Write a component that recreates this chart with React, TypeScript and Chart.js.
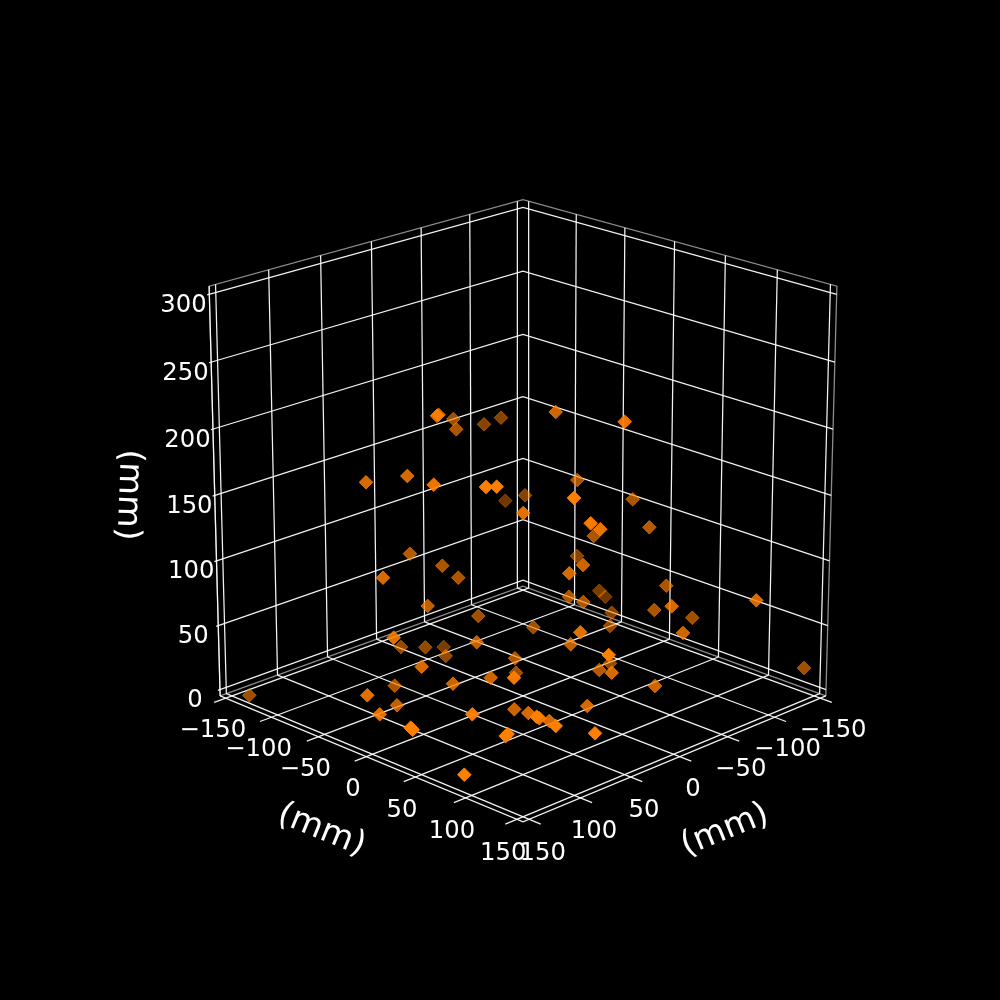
import React, { useEffect, useRef } from "react";
import { Chart, registerables } from "chart.js";

Chart.register(...registerables);

// Axis ticks (mm)
const axisATicks = [-150, -100, -50, 0, 50, 100, 150];
const axisBTicks = [-150, -100, -50, 0, 50, 100, 150];
const axisZTicks = [0, 50, 100, 150, 200, 250, 300];
const axisTitle = "(mm)";

// Limits of the box (mm)
const horizontalLimits = [-156, 156];
const verticalLimits = [-5, 306];

// Scatter values read in the plane of the picture, with the depth shade of each marker
const seriesX = [437, 438.5, 453.3, 456.3, 484, 501, 555.7, 366, 407.3, 433.7, 486, 496.7, 505.3, 525, 523.3, 410, 442.3, 383, 458.3, 427.7, 624.7, 577.3, 574, 632.7, 590.7, 600.3, 593.7, 649.3, 577, 583, 569.3, 666.3, 599.3, 605.3, 569, 583.3, 671.7, 756.3, 654.3, 611.7, 692.3, 610, 683, 580.3, 570.7, 608.7, 610, 599.3, 611.7, 804, 655, 478.3, 533.3, 393.7, 401, 425.3, 443.7, 445.7, 476.7, 515, 421.7, 516, 514, 490.7, 394.7, 453, 367.3, 397, 379.7, 472.3, 410.7, 412.7, 514.3, 528.3, 536.7, 539.3, 549.3, 555.7, 505.7, 507.7, 464.3, 595, 587.3, 249.3];
const seriesY = [415.8, 414.8, 419, 429.3, 424.3, 417.7, 412, 482.3, 476, 484.7, 487, 486.7, 500.7, 495.3, 513, 553.7, 565.7, 577.7, 577.7, 606, 421.7, 480, 498, 499.3, 523.3, 529.3, 536, 527.3, 556, 565, 573.3, 585.7, 590.7, 596.7, 596.7, 602, 606.3, 600.3, 610, 612.7, 617.7, 626, 633, 632.3, 644.3, 655, 663.3, 670, 672.7, 668, 686, 616, 627.3, 637.7, 647, 647.3, 647, 656, 642.3, 658.3, 666.7, 672.7, 677.7, 677.7, 685.7, 683.7, 695.3, 705.3, 714.3, 714.3, 727.7, 729.7, 709.3, 713, 716.7, 718.3, 721, 726, 736, 734, 774.7, 733.3, 706, 695.3];
const seriesShade = [0.85, 0.8, 0.55, 0.6, 0.45, 0.45, 0.75, 0.8, 0.8, 0.9, 1, 1, 0.35, 0.45, 0.85, 0.65, 0.6, 0.8, 0.6, 0.7, 0.9, 0.6, 1, 0.6, 0.95, 0.9, 0.6, 0.65, 0.45, 0.75, 0.8, 0.6, 0.4, 0.35, 0.6, 0.6, 0.8, 0.8, 0.6, 0.45, 0.55, 0.5, 0.75, 0.85, 0.7, 1, 0.5, 0.65, 0.8, 0.55, 0.75, 0.55, 0.55, 0.85, 0.5, 0.5, 0.4, 0.5, 0.7, 0.6, 0.8, 0.55, 0.95, 0.75, 0.6, 0.75, 0.85, 0.7, 0.85, 0.95, 1, 1, 0.75, 0.8, 1, 0.9, 0.8, 1, 1, 1, 1, 1, 0.8, 0.55];

// Camera of the view
const ELEV = (20 * Math.PI) / 180;
const K = 4160;
const HALF = 0.0524;
const CX = 523;
const CY = 494.7;

function project(a: number, b: number, z: number) {
  const [hMin, hMax] = horizontalLimits;
  const [vMin, vMax] = verticalLimits;
  const X = ((a - hMin) / (hMax - hMin) - 0.5) * 2 * HALF;
  const Y = ((b - hMin) / (hMax - hMin) - 0.5) * 2 * HALF;
  const Z = ((z - vMin) / (vMax - vMin) - 0.5) * 2 * HALF;
  const u = (X - Y) * Math.SQRT1_2;
  const d = (X + Y) * Math.SQRT1_2;
  const v = -d * Math.sin(ELEV) + Z * Math.cos(ELEV);
  const w = d * Math.cos(ELEV) + Z * Math.sin(ELEV);
  const s = 1 / (1 - w);
  return { x: CX + K * u * s, y: CY - K * v * s };
}

type Pt = { x: number; y: number };

function lineDataset(points: Pt[], color: string, width: number, order: number) {
  return {
    type: "line" as const,
    data: points,
    borderColor: color,
    borderWidth: width,
    pointRadius: 0,
    fill: false,
    tension: 0,
    order,
  };
}

function buildLines() {
  const [hMin, hMax] = horizontalLimits;
  const [vMin, vMax] = verticalLimits;
  const lines: ReturnType<typeof lineDataset>[] = [];
  const grid = "rgba(255,255,255,0.95)";
  const edge = "rgba(255,255,255,0.55)";
  const tickOut = 11;
  const zTickOut = 2;
  const w = 1.25;
  // Walls
  axisBTicks.forEach((b) => lines.push(lineDataset([project(hMin, b, vMin), project(hMin, b, vMax)], grid, w, 5)));
  axisATicks.forEach((a) => lines.push(lineDataset([project(a, hMin, vMin), project(a, hMin, vMax)], grid, w, 5)));
  axisZTicks.forEach((z) => {
    lines.push(lineDataset([project(hMin, hMax + zTickOut, z), project(hMin, hMin, z), project(hMax, hMin, z)], grid, w, 5));
  });
  // Floor
  axisATicks.forEach((a) => lines.push(lineDataset([project(a, hMin, vMin), project(a, hMax + tickOut, vMin)], grid, w, 5)));
  axisBTicks.forEach((b) => lines.push(lineDataset([project(hMin, b, vMin), project(hMax + tickOut, b, vMin)], grid, w, 5)));
  // Pane edges
  lines.push(lineDataset([project(hMin, hMax, vMin), project(hMin, hMax, vMax), project(hMin, hMin, vMax), project(hMax, hMin, vMax), project(hMax, hMin, vMin)], edge, 1.3, 6));
  lines.push(lineDataset([project(hMin, hMax, vMin), project(hMin, hMin, vMin), project(hMax, hMin, vMin)], edge, 1.3, 6));
  // Axis lines
  lines.push(lineDataset([project(hMin, hMax, vMin), project(hMax, hMax, vMin), project(hMax, hMin, vMin)], grid, w, 5));
  lines.push(lineDataset([project(hMin, hMax, vMin), project(hMin, hMax, vMax)], grid, w, 5));
  return lines;
}

const FONT = '"DejaVu Sans"';

const textPlugin = {
  id: "axisText",
  afterDatasetsDraw(chart: Chart) {
    const ctx = chart.ctx;
    const sx = chart.scales.x;
    const sy = chart.scales.y;
    const [hMin, hMax] = horizontalLimits;
    const [vMin] = verticalLimits;
    const put = (text: string, p: Pt, size: number, rot = 0) => {
      ctx.save();
      ctx.translate(sx.getPixelForValue(p.x), sy.getPixelForValue(p.y));
      ctx.rotate(rot);
      ctx.font = `${size}px ${FONT}`;
      ctx.fillStyle = "#ffffff";
      ctx.textAlign = "center";
      ctx.textBaseline = "middle";
      ctx.fillText(text, 0, 0);
      ctx.restore();
    };
    const fmt = (v: number) => (v < 0 ? "\u2212" + Math.abs(v) : String(v));
    const out = 13;
    const down = 21.5;
    const tickFont = 24.3;
    axisATicks.forEach((a) => put(fmt(a), project(a, hMax + out, vMin - down), tickFont));
    axisBTicks.forEach((b) => put(fmt(b), project(hMax + out, b, vMin - down), tickFont));
    axisZTicks.forEach((z) => put(fmt(z), project(hMin - 13, hMax + 13, z - 8.5), tickFont));
    put(axisTitle, { x: 321.5, y: 830.5 }, 33.5, (22 * Math.PI) / 180);
    put(axisTitle, { x: 725, y: 830.5 }, 33.5, (-22 * Math.PI) / 180);
    put(axisTitle, { x: 128, y: 495 }, 33.5, (92 * Math.PI) / 180);
  },
};

export default function App() {
  const ref = useRef<HTMLCanvasElement | null>(null);
  useEffect(() => {
    document.body.style.margin = "0";
    document.body.style.background = "#000";
    if (!ref.current) return;
    const order = seriesShade.map((_, i) => i).sort((p, q) => seriesShade[p] - seriesShade[q]);
    const points = order.map((i) => ({ x: seriesX[i], y: seriesY[i] }));
    const colors = order.map((i) => `rgba(255,127,0,${Math.pow(seriesShade[i], 0.8).toFixed(3)})`);
    const chart = new Chart(ref.current, {
      type: "scatter",
      data: {
        datasets: [
          {
            type: "scatter",
            data: points,
            pointStyle: "rectRot",
            pointRadius: 6.8,
            pointBackgroundColor: colors,
            pointBorderColor: colors,
            pointBorderWidth: 1,
            order: 1,
          },
          ...buildLines(),
        ] as any,
      },
      options: {
        responsive: false,
        animation: false,
        devicePixelRatio: 1,
        layout: { padding: 0, autoPadding: false },
        plugins: { legend: { display: false }, tooltip: { enabled: false } },
        scales: {
          x: { type: "linear", min: 0, max: 1000, display: false },
          y: { type: "linear", min: 0, max: 1000, reverse: true, display: false },
        },
      },
      plugins: [textPlugin],
    });
    return () => chart.destroy();
  }, []);
  return (
    <div style={{ width: 1000, height: 1000, background: "#000" }}>
      <canvas ref={ref} width={1000} height={1000} style={{ display: "block" }} />
    </div>
  );
}
